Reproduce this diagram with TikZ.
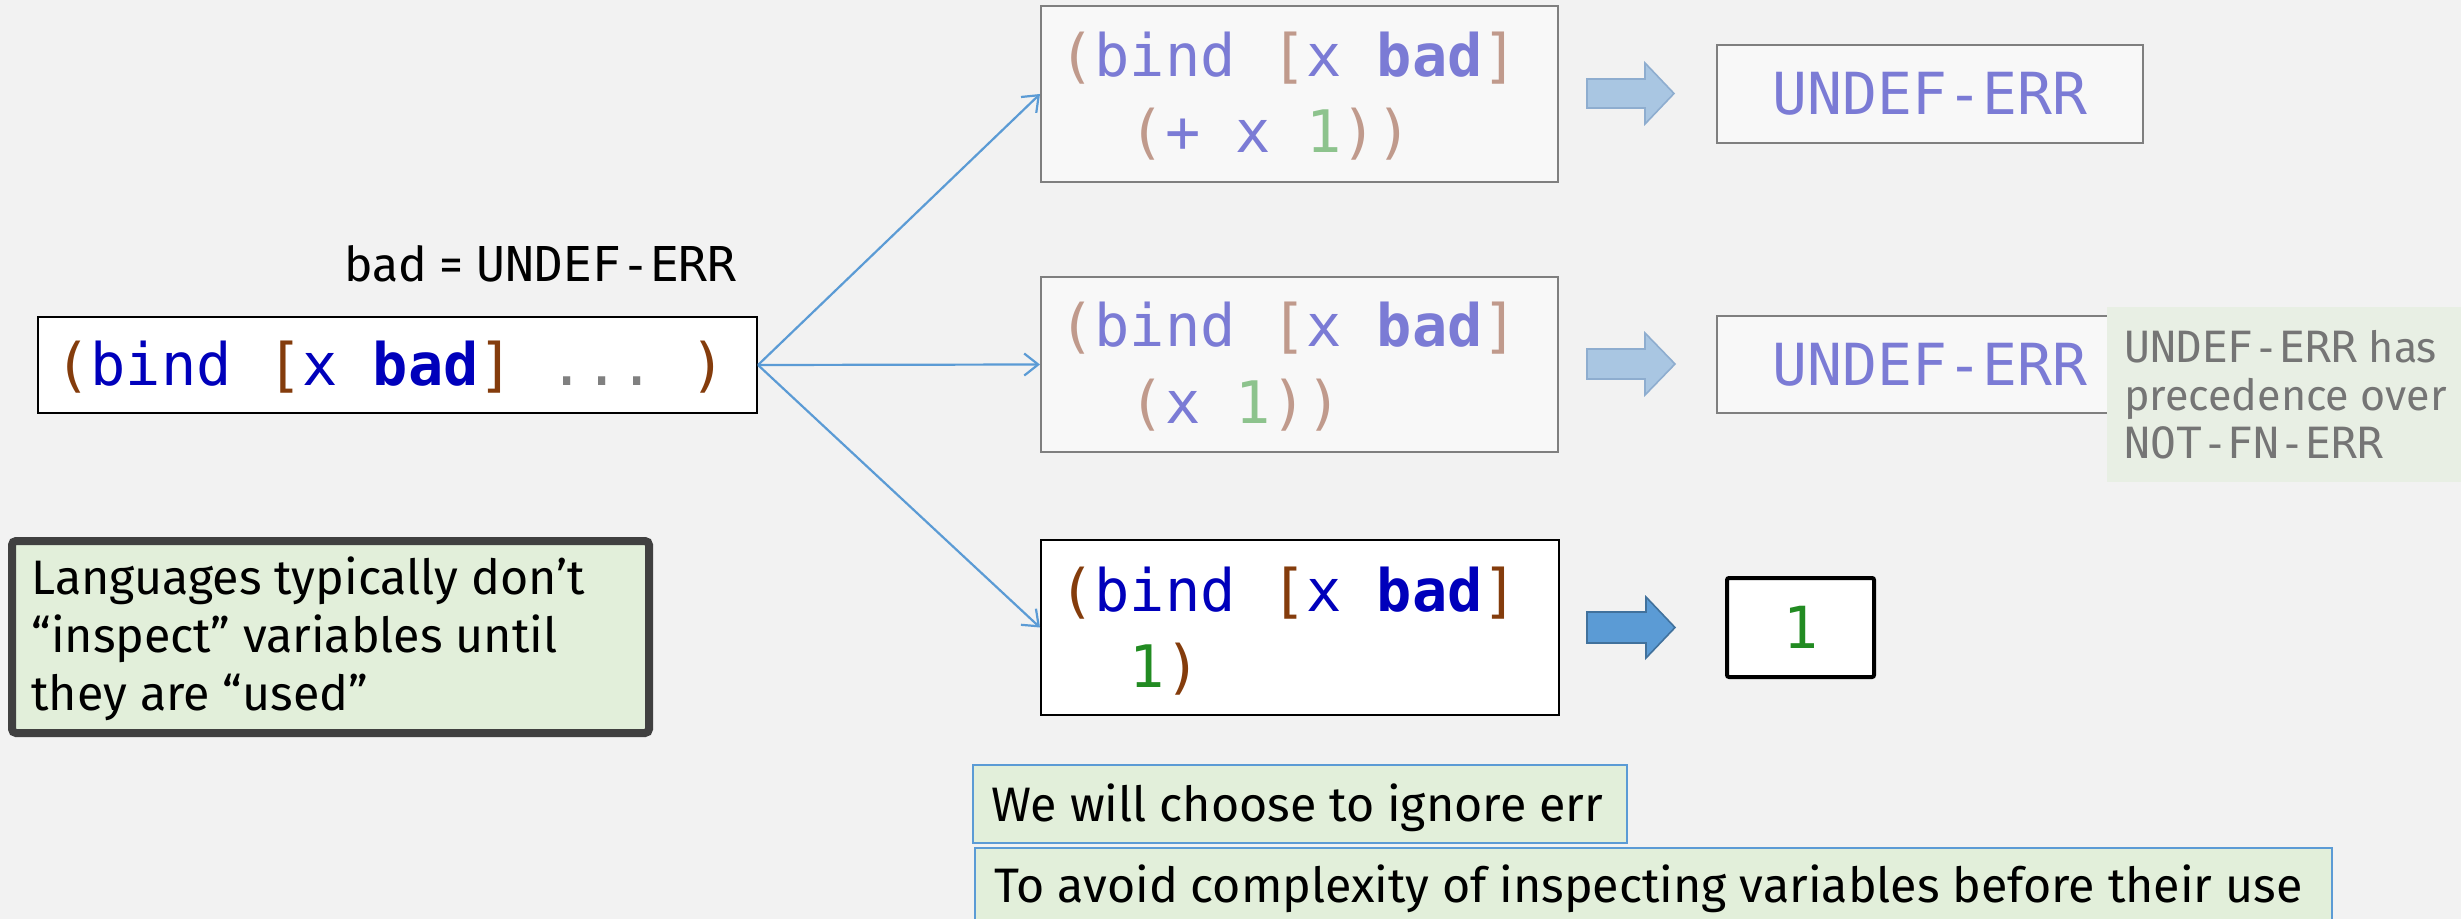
\documentclass[tikz,border=0pt]{standalone}
\usepackage{fontspec}
\setmainfont{Fira Sans}
\setmonofont{DejaVu Sans Mono}
\usetikzlibrary{fit,arrows.meta}
\definecolor{bg}{HTML}{F2F2F2}
\definecolor{cparen}{HTML}{843C0C}
\definecolor{cblue}{HTML}{0000BB}
\definecolor{cgreen}{HTML}{228B22}
\definecolor{cdots}{HTML}{808080}
\definecolor{fparen}{HTML}{C09A8C}
\definecolor{fblue}{HTML}{7B7BD5}
\definecolor{fgreen}{HTML}{8DC38D}
\definecolor{fadefill}{HTML}{F8F8F8}
\definecolor{fadeline}{HTML}{7F7F7F}
\definecolor{conncol}{HTML}{5B9BD5}
\definecolor{notegreen}{HTML}{E2EFDA}
\definecolor{notepale}{HTML}{E8EFE4}
\definecolor{notegray}{HTML}{757575}
\definecolor{darkframe}{HTML}{404040}
\definecolor{arrfill}{HTML}{5B9BD5}
\definecolor{arrline}{HTML}{41719C}
\definecolor{farrfill}{HTML}{A9C6E2}
\definecolor{farrline}{HTML}{8EADCF}
\newcommand{\CodeP}[1]{\textcolor{cparen}{#1}}
\newcommand{\CodeB}[1]{\textcolor{cblue}{#1}}
\newcommand{\CodeG}[1]{\textcolor{cgreen}{#1}}
\newcommand{\FadeP}[1]{\textcolor{fparen}{#1}}
\newcommand{\FadeB}[1]{\textcolor{fblue}{#1}}
\newcommand{\FadeG}[1]{\textcolor{fgreen}{#1}}
\begin{document}
\begin{tikzpicture}[x=0.5pt,y=-0.5pt,
  codebox/.style={draw=black, line width=1pt, fill=white, inner sep=0pt},
  fadebox/.style={draw=fadeline, line width=1pt, fill=fadefill, inner sep=0pt},
  code/.style={inner sep=0pt, anchor=base west, font=\fontsize{29.3}{38}\selectfont\ttfamily},
  centercode/.style={inner sep=0pt, font=\fontsize{29}{38}\selectfont\ttfamily},
  conn/.style={draw=conncol, line width=1.1pt, -{Straight Barb[length=7pt,width=11pt,line width=1.1pt]}},
  blockarrow/.style={fill=arrfill, draw=arrline, line width=0.8pt},
  fadearrow/.style={fill=farrfill, draw=farrline, line width=0.8pt},
  notebox/.style={draw=conncol, line width=0.8pt, fill=notegreen, inner sep=0pt},
  notetext/.style={inner sep=0pt, anchor=base west, font=\fontsize{24.2}{29}\selectfont},
  sidetext/.style={inner sep=0pt, anchor=base west, text=notegray, font=\fontsize{21.5}{24}\selectfont}
]
\fill[bg] (0,0) rectangle (2461,919);
\useasboundingbox (0,0) rectangle (2461,919);

% source expression
\node[inner sep=0pt, anchor=base west, font=\fontsize{24}{28}\selectfont] (badlbl) at (344,282)
  {bad = \texttt{UNDEF-ERR}};
\node[codebox, fit={(38,317) (757,413)}] (src) {};
\node[code] (srctxt) at (55,386)
  {\CodeP{(}\CodeB{bind} \CodeP{[}\CodeB{x \textbf{bad}}\CodeP{]} \textcolor{cdots}{...} \CodeP{)}};

% three cases
\node[fadebox, fit={(1041,6) (1558,182)}] (e1) {};
\node[code] (e1a) at (1059,77) {\FadeP{(}\FadeB{bind} \FadeP{[}\FadeB{x \textbf{bad}}\FadeP{]}};
\node[code] (e1b) at (1059,153) {\hphantom{xx}\FadeP{(}\FadeB{+ x} \FadeG{1}\FadeP{))}};

\node[fadebox, fit={(1041,277) (1558,452)}] (e2) {};
\node[code] (e2a) at (1059,347) {\FadeP{(}\FadeB{bind} \FadeP{[}\FadeB{x \textbf{bad}}\FadeP{]}};
\node[code] (e2b) at (1059,423) {\hphantom{xx}\FadeP{(}\FadeB{x} \FadeG{1}\FadeP{))}};

\node[codebox, fit={(1041,540) (1559,715)}] (e3) {};
\node[code] (e3a) at (1059,611) {\CodeP{(}\CodeB{bind} \CodeP{[}\CodeB{x \textbf{bad}}\CodeP{]}};
\node[code] (e3b) at (1059,687) {\hphantom{xx}\CodeG{1}\CodeP{)}};

% connectors
\draw[conn] (src.east) -- (e1.west);
\draw[conn] (src.east) -- (e2.west);
\draw[conn] (src.east) -- (e3.west);

% block arrows
\draw[fadearrow] (1587,79) -- (1645,79) -- (1645,63) -- (1674,93.5) -- (1645,124) -- (1645,108) -- (1587,108) -- cycle;
\draw[fadearrow] (1587,349) -- (1645,349) -- (1645,333) -- (1675,364) -- (1645,395) -- (1645,379) -- (1587,379) -- cycle;
\draw[blockarrow] (1587,612) -- (1646,612) -- (1646,597) -- (1675,627.5) -- (1646,658) -- (1646,643) -- (1587,643) -- cycle;

% results
\node[fadebox, fit={(1717,45) (2143,143)}] (r1) {};
\node[centercode, text=fblue] (r1t) at (r1.center) {UNDEF-ERR};
\node[fadebox, fit={(1717,316) (2143,413)}] (r2) {};
\node[centercode, text=fblue] (r2t) at (r2.center) {UNDEF-ERR};
\node[draw=black, line width=2pt, fill=white, inner sep=0pt, rounded corners=1pt, fit={(1727,578) (1874,677)}] (r3) {};
\node[centercode, text=cgreen] (r3t) at (r3.center) {1};

% side note
\node[fill=notepale, inner sep=0pt, fit={(2107,307) (2470,482)}] (side) {};
\node[sidetext] (sidea) at (2124,363) {\texttt{UNDEF-ERR} has};
\node[sidetext] (sideb) at (2124,410) {precedence over};
\node[sidetext] (sidec) at (2124,458) {\texttt{NOT-FN-ERR}};

% left note
\node[draw=darkframe, line width=4pt, fill=notegreen, rounded corners=2pt, inner sep=0pt, fit={(12,541) (649,733)}] (lang) {};
\node[notetext] (langa) at (31,594) {Languages typically don’t};
\node[notetext] (langb) at (31,652) {“inspect” variables until};
\node[notetext] (langc) at (31,710) {they are “used”};

% bottom notes
\node[notebox, fit={(973,765) (1627,843)}] (n1) {};
\node[notetext] (n1t) at (991,821) {We will choose to ignore err};
\node[notebox, fit={(975,848) (2332,945)}] (n2) {};
\node[notetext] (n2t) at (994,902) {To avoid complexity of inspecting variables before their use};
\end{tikzpicture}
\end{document}
